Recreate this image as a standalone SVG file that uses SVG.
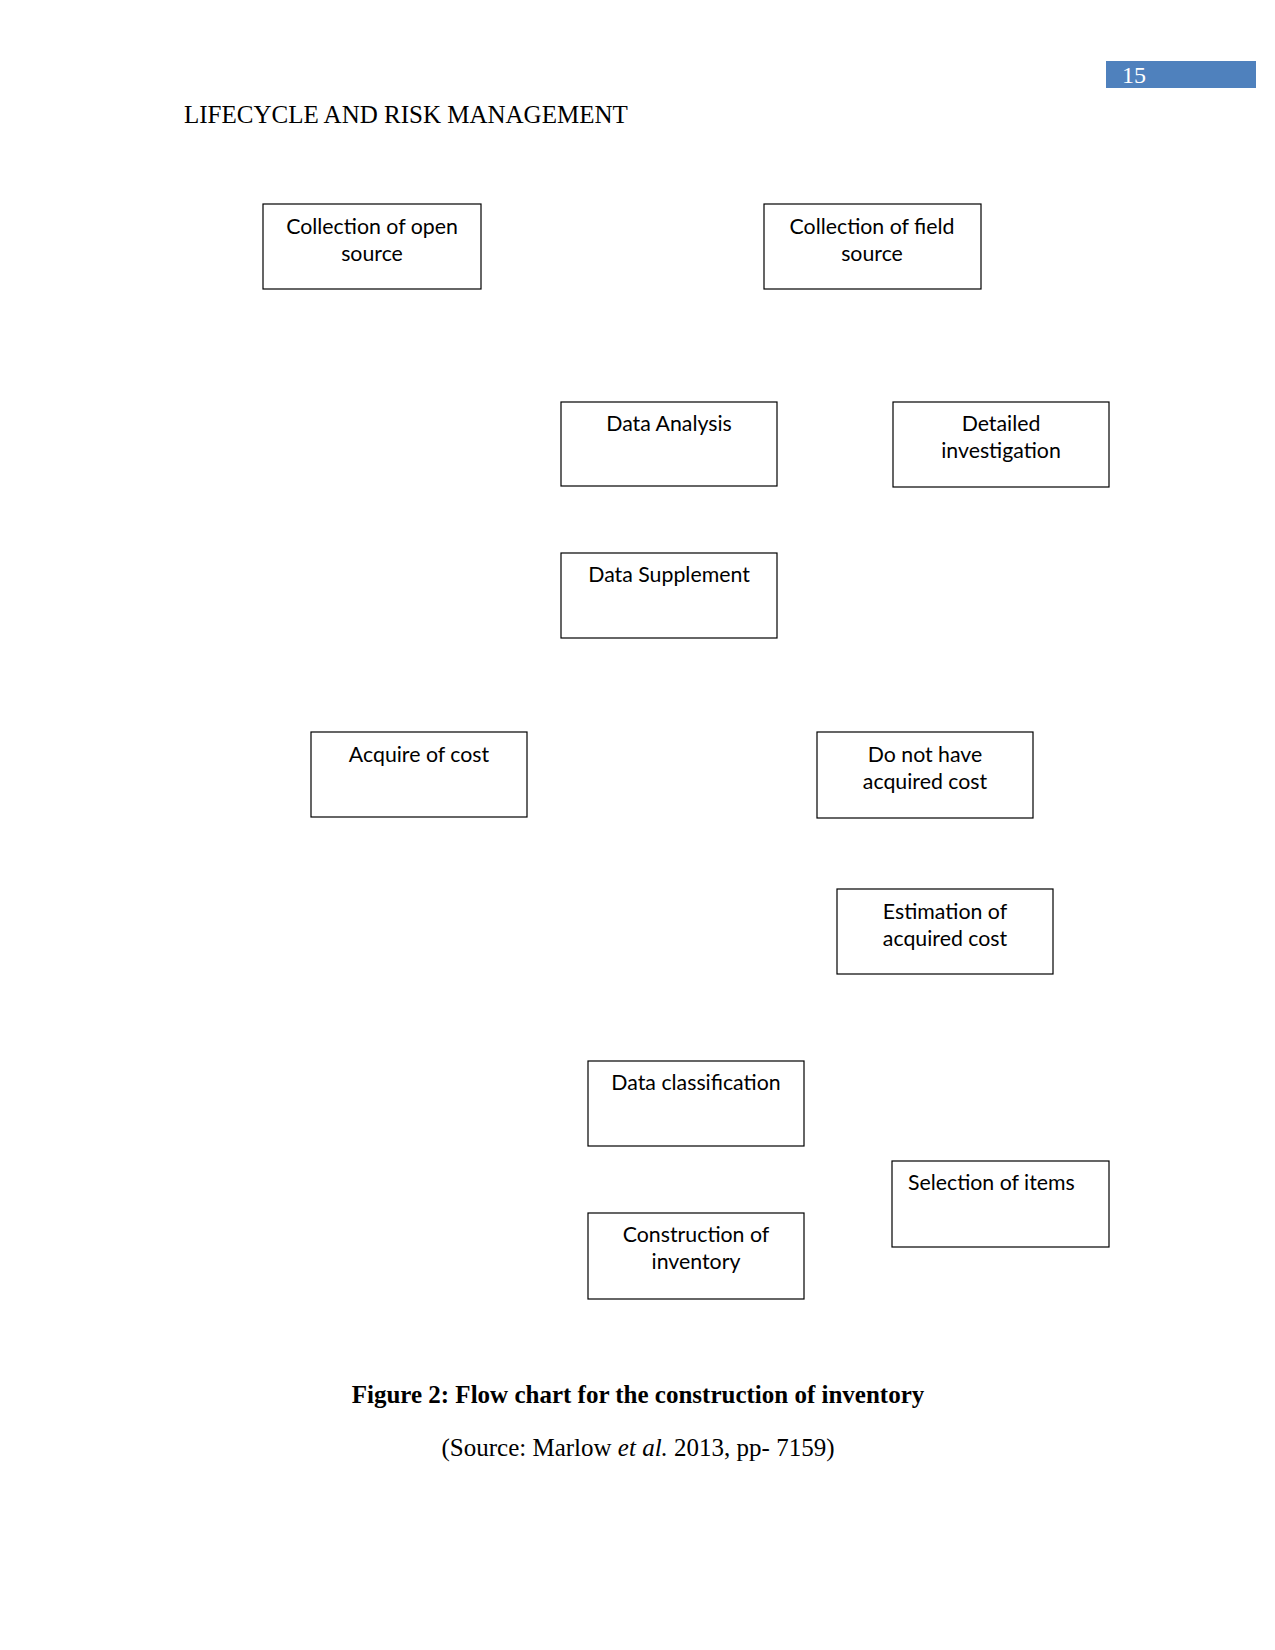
<svg xmlns="http://www.w3.org/2000/svg" width="1275" height="1650" viewBox="0 0 1275 1650">
<style>
.box{fill:#fff;stroke:#000;stroke-width:1.2}
.t{font-family:Lato,"Liberation Sans",sans-serif;font-size:21.3px;fill:#000;text-anchor:middle}
.hdr{font-family:"Liberation Serif",serif;font-size:25px;fill:#000}
</style>
<rect width="1275" height="1650" fill="#fff"/>
<rect x="1106" y="61" width="150" height="27" fill="#4f81bd"/>
<text x="1122" y="83" font-family="Liberation Serif, serif" font-size="24" fill="#fff">15</text>
<text class="hdr" x="184" y="123">LIFECYCLE AND RISK MANAGEMENT</text>
<g id="connectors"></g>
<g id="n1"><rect class="box" x="263" y="204" width="218" height="85"/><text class="t" x="372" y="234">Collection of open</text><text class="t" x="372" y="261">source</text></g>
<g id="n2"><rect class="box" x="764" y="204" width="217" height="85"/><text class="t" x="872" y="234">Collection of field</text><text class="t" x="872" y="261">source</text></g>
<g id="n3"><rect class="box" x="561" y="402" width="216" height="84"/><text class="t" x="669" y="431">Data Analysis</text></g>
<g id="n4"><rect class="box" x="893" y="402" width="216" height="85"/><text class="t" x="1001" y="431">Detailed</text><text class="t" x="1001" y="458">investigation</text></g>
<g id="n5"><rect class="box" x="561" y="553" width="216" height="85"/><text class="t" x="669" y="582">Data Supplement</text></g>
<g id="n6"><rect class="box" x="311" y="732" width="216" height="85"/><text class="t" x="419" y="762">Acquire of cost</text></g>
<g id="n7"><rect class="box" x="817" y="732" width="216" height="86"/><text class="t" x="925" y="762">Do not have</text><text class="t" x="925" y="789">acquired cost</text></g>
<g id="n8"><rect class="box" x="837" y="889" width="216" height="85"/><text class="t" x="945" y="919">Estimation of</text><text class="t" x="945" y="946">acquired cost</text></g>
<g id="n9"><rect class="box" x="588" y="1061" width="216" height="85"/><text class="t" x="696" y="1090">Data classification</text></g>
<g id="n10"><rect class="box" x="892" y="1161" width="217" height="86"/><text class="t" x="908" y="1190" style="text-anchor:start">Selection of items</text></g>
<g id="n11"><rect class="box" x="588" y="1213" width="216" height="86"/><text class="t" x="696" y="1242">Construction of</text><text class="t" x="696" y="1269">inventory</text></g>
<text x="638" y="1403" font-family="Liberation Serif, serif" font-size="25" font-weight="bold" text-anchor="middle">Figure 2: Flow chart for the construction of inventory</text>
<text x="638" y="1456" font-family="Liberation Serif, serif" font-size="25" text-anchor="middle">(Source: Marlow <tspan font-style="italic">et al.</tspan> 2013, pp- 7159)</text>
</svg>
